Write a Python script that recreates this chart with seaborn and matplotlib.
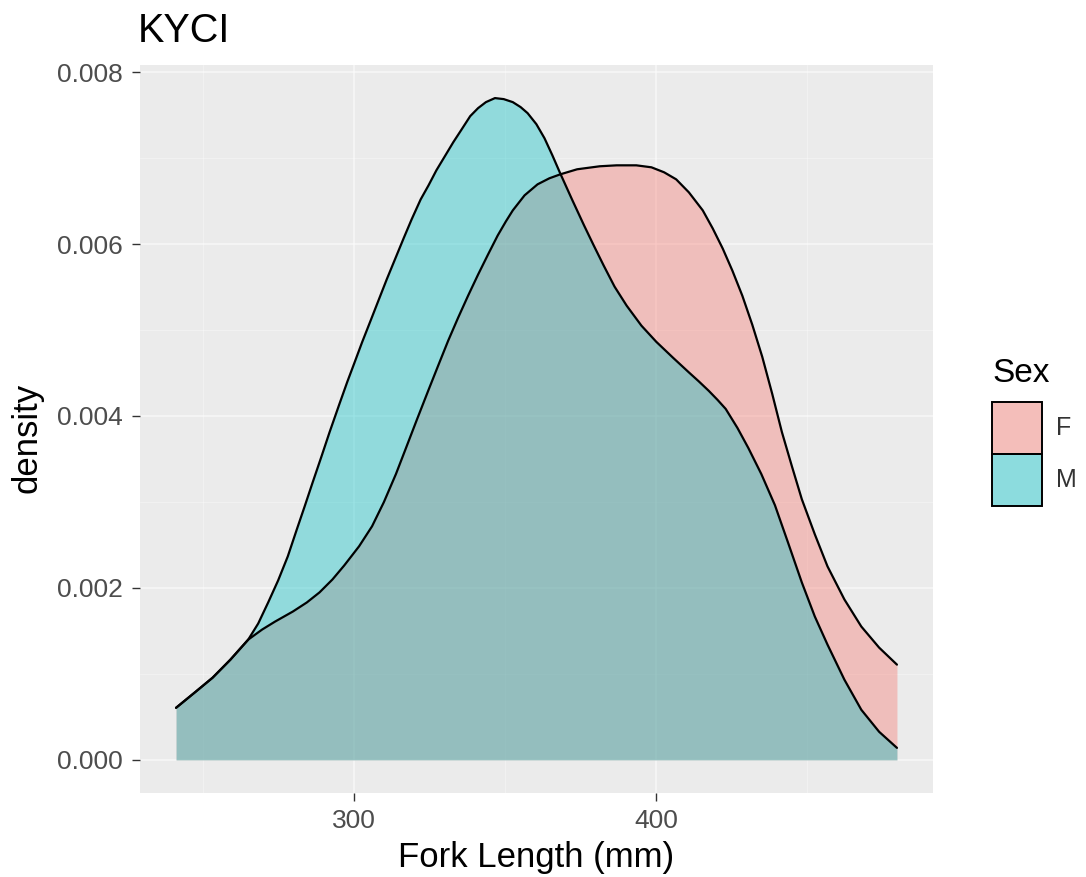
import matplotlib
matplotlib.use("Agg")
import matplotlib.pyplot as plt
import numpy as np
import pandas as pd
import seaborn as sns
from matplotlib.colors import to_rgba
from matplotlib.patches import Rectangle
from matplotlib.ticker import FixedLocator

# Kernel density of fork length by sex (KYCI site)
female_length = [241.0, 247.5, 253.1, 259.0, 264.9, 269.5, 273.8, 279.7, 284.3, 288.5,
                 292.8, 296.7, 301.6, 305.9, 309.8, 313.8, 317.0, 320.7, 324.6, 327.9,
                 331.1, 334.4, 337.7, 341.0, 344.3, 347.5, 350.2, 352.5, 356.4, 360.7,
                 364.6, 368.2, 373.8, 381.3, 386.9, 393.4, 398.4, 402.6, 406.6, 410.8,
                 415.4, 418.7, 422.0, 425.2, 428.5, 431.8, 435.1, 438.4, 441.6, 444.9,
                 448.2, 452.5, 456.7, 462.3, 467.9, 473.8, 479.7]
female_density = [0.000606, 0.000793, 0.000956, 0.001166, 0.001399, 0.001516, 0.001609,
                  0.001726, 0.001831, 0.001948, 0.002099, 0.002262, 0.002484, 0.002717,
                  0.002997, 0.003324, 0.003615, 0.003953, 0.004303, 0.004595, 0.004875,
                  0.005143, 0.005399, 0.005644, 0.005878, 0.006099, 0.006262, 0.006391,
                  0.006566, 0.006694, 0.006764, 0.006810, 0.006869, 0.006904, 0.006915,
                  0.006915, 0.006892, 0.006834, 0.006752, 0.006601, 0.006391, 0.006181,
                  0.005948, 0.005691, 0.005399, 0.005061, 0.004688, 0.004257, 0.003813,
                  0.003417, 0.003032, 0.002624, 0.002251, 0.001866, 0.001551, 0.001306,
                  0.001108]

male_length = [241.0, 247.5, 253.1, 259.0, 264.9, 268.2, 271.5, 274.8, 278.0, 281.0,
               283.6, 286.2, 289.2, 291.8, 295.1, 297.7, 300.0, 302.6, 305.6, 308.2,
               310.8, 313.8, 316.4, 319.0, 322.0, 324.6, 327.2, 330.2, 332.8, 335.4,
               338.4, 341.0, 343.6, 346.6, 349.5, 352.5, 355.1, 357.4, 360.3, 363.0,
               365.6, 368.2, 372.1, 376.1, 379.3, 382.6, 386.2, 390.2, 395.1, 400.0,
               405.6, 410.8, 414.1, 417.4, 420.3, 423.0, 426.9, 430.5, 434.8, 439.3,
               443.6, 448.2, 452.5, 456.7, 462.3, 467.9, 473.8, 479.7]
male_density = [0.000606, 0.000793, 0.000956, 0.001166, 0.001399, 0.001586, 0.001831,
                0.002087, 0.002367, 0.002682, 0.002950, 0.003224, 0.003534, 0.003808,
                0.004140, 0.004397, 0.004612, 0.004857, 0.005125, 0.005359, 0.005592,
                0.005848, 0.006070, 0.006286, 0.006519, 0.006682, 0.006857, 0.007032,
                0.007184, 0.007324, 0.007487, 0.007580, 0.007650, 0.007697, 0.007685,
                0.007650, 0.007592, 0.007522, 0.007394, 0.007230, 0.007032, 0.006822,
                0.006519, 0.006216, 0.005983, 0.005749, 0.005504, 0.005283, 0.005050,
                0.004863, 0.004676, 0.004507, 0.004402, 0.004292, 0.004187, 0.004082,
                0.003860, 0.003627, 0.003324, 0.002962, 0.002531, 0.002064, 0.001668,
                0.001341, 0.000933, 0.000583, 0.000327, 0.000140]

sexes = ["F", "M"]
sex_colors = {"F": "#F8766D", "M": "#00BFC4"}
fill_alpha = 0.38

x_ticks = [300, 400]
y_ticks = [0.000, 0.002, 0.004, 0.006, 0.008]

df = pd.concat([
    pd.DataFrame({"Fork Length (mm)": female_length, "density": female_density, "Sex": "F"}),
    pd.DataFrame({"Fork Length (mm)": male_length, "density": male_density, "Sex": "M"}),
], ignore_index=True)

sns.set_theme(style="darkgrid")
plt.rcParams["font.family"] = ["Liberation Sans", "DejaVu Sans"]

W, H = 1086, 877
fig = plt.figure(figsize=(W / 100, H / 100), dpi=100)
fig.patch.set_facecolor("white")
ax = fig.add_axes([140 / W, 1 - 793 / H, 793 / W, 728 / H])
ax.set_facecolor("#EBEBEB")

for sex in sexes:
    sub = df[df["Sex"] == sex]
    ax.fill_between(sub["Fork Length (mm)"], 0, sub["density"],
                    color=sex_colors[sex], alpha=fill_alpha, linewidth=0, zorder=2)
    sns.lineplot(data=sub, x="Fork Length (mm)", y="density", color="black",
                 linewidth=1.6, sort=False, estimator=None, ax=ax, zorder=3)

# 5% expansion of the data range on both axes
xmin, xmax = df["Fork Length (mm)"].min(), df["Fork Length (mm)"].max()
ymax = df["density"].max()
xpad = 0.05 * (xmax - xmin)
ax.set_xlim(xmin - xpad, xmax + xpad)
ax.set_ylim(-0.05 * ymax, ymax * 1.05)

ax.xaxis.set_major_locator(FixedLocator(x_ticks))
ax.yaxis.set_major_locator(FixedLocator(y_ticks))
ax.xaxis.set_minor_locator(FixedLocator([250, 350, 450]))
ax.yaxis.set_minor_locator(FixedLocator([0.001, 0.003, 0.005, 0.007]))
ax.set_xticklabels([str(v) for v in x_ticks])
ax.set_yticklabels([f"{v:.3f}" for v in y_ticks])

ax.grid(which="major", color="white", linewidth=1.3, alpha=0.5, zorder=0)
ax.grid(which="minor", color="white", linewidth=0.6, alpha=0.4, zorder=0)
ax.set_axisbelow(True)
for sp in ax.spines.values():
    sp.set_visible(False)

ax.tick_params(axis="both", which="major", length=5.5, width=1.0, color="#333333",
               labelsize=19, labelcolor="#4D4D4D", bottom=True, left=True)
ax.tick_params(axis="y", which="major", pad=7)
ax.tick_params(axis="x", which="major", pad=6)
ax.tick_params(axis="both", which="minor", length=0)

ax.set_xlabel("")
ax.set_ylabel("")
fig.text(536 / W, 1 - 858 / H, "Fork Length (mm)", ha="center", va="center",
         fontsize=25, color="black")
fig.text(27 / W, 1 - 438 / H, "density", ha="center", va="center",
         rotation=90, fontsize=25, color="black")
fig.text(138 / W, 1 - 42 / H, "KYCI", ha="left", va="baseline",
         fontsize=28.5, color="black")

# legend: title, one outlined key per sex, label beside it
fig.text(992 / W, 1 - 382 / H, "Sex", ha="left", va="baseline", fontsize=24, color="black")
key_left, key_w, key_h, key_top = 992, 50, 52, 402
for i, sex in enumerate(sexes):
    top = key_top + i * key_h
    fig.patches.append(Rectangle((key_left / W, 1 - (top + key_h) / H), key_w / W, key_h / H,
                                 transform=fig.transFigure, facecolor="#F2F2F2",
                                 edgecolor="none", zorder=1))
    fig.patches.append(Rectangle((key_left / W, 1 - (top + key_h) / H), key_w / W, key_h / H,
                                 transform=fig.transFigure,
                                 facecolor=to_rgba(sex_colors[sex], fill_alpha + 0.04),
                                 edgecolor="black", linewidth=1.4, zorder=2))
    fig.text(1056 / W, 1 - (top + key_h / 2) / H, sex, ha="left", va="center",
             fontsize=18, color="#333333")

fig.savefig("out.png", dpi=100)
